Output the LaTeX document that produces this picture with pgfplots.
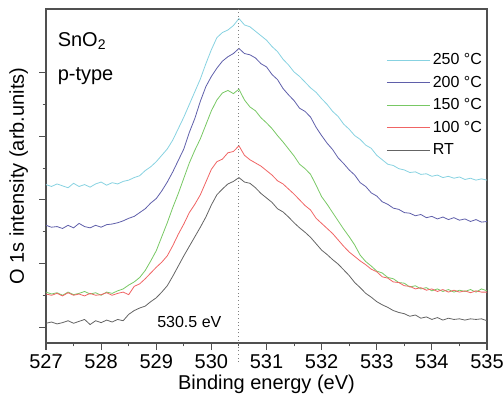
\documentclass[border=0pt]{standalone}
\usepackage{pgfplots}
\usepackage{pgfplotstable}
\pgfplotsset{compat=1.18}
\usepackage{fontspec}
\setmainfont{Liberation Sans}

\definecolor{c250}{RGB}{135,210,225}
\definecolor{c200}{RGB}{95,95,170}
\definecolor{c150}{RGB}{120,200,100}
\definecolor{c100}{RGB}{240,100,100}
\definecolor{cRT}{RGB}{100,100,100}
\definecolor{frame}{RGB}{80,80,80}

% x, 250C, 200C, 150C, 100C, RT
\pgfplotstableread{
x a b c d e
527.0 2.24 1.60 0.55 0.52 0.06
527.1 2.21 1.57 0.52 0.50 0.08
527.2 2.25 1.58 0.54 0.53 0.05
527.3 2.22 1.55 0.50 0.49 0.07
527.4 2.19 1.60 0.55 0.54 0.10
527.5 2.26 1.56 0.51 0.50 0.06
527.6 2.21 1.63 0.53 0.52 0.09
527.7 2.24 1.58 0.56 0.49 0.12
527.8 2.20 1.56 0.52 0.53 0.04
527.9 2.25 1.60 0.54 0.50 0.10
528.0 2.28 1.57 0.50 0.51 0.07
528.1 2.23 1.61 0.55 0.54 0.11
528.2 2.27 1.62 0.53 0.50 0.08
528.3 2.25 1.64 0.57 0.53 0.12
528.4 2.29 1.67 0.60 0.55 0.10
528.5 2.31 1.71 0.66 0.51 0.20
528.6 2.35 1.74 0.71 0.64 0.26
528.7 2.38 1.80 0.78 0.68 0.30
528.8 2.46 1.86 0.89 0.76 0.33
528.9 2.52 1.95 1.04 0.85 0.40
529.0 2.60 2.02 1.20 0.94 0.46
529.1 2.70 2.14 1.42 1.02 0.55
529.2 2.80 2.28 1.64 1.12 0.65
529.3 2.94 2.44 1.88 1.28 0.80
529.4 3.12 2.62 2.10 1.46 0.96
529.5 3.30 2.80 2.34 1.62 1.12
529.6 3.50 3.06 2.58 1.80 1.27
529.7 3.70 3.28 2.78 1.93 1.42
529.8 3.90 3.55 2.96 2.08 1.57
529.9 4.14 3.78 3.18 2.28 1.73
530.0 4.36 3.94 3.40 2.48 1.92
530.1 4.55 4.07 3.57 2.60 2.08
530.2 4.63 4.18 3.68 2.64 2.17
530.3 4.67 4.25 3.72 2.74 2.25
530.4 4.74 4.30 3.67 2.76 2.29
530.5 4.85 4.38 3.74 2.85 2.35
530.6 4.75 4.30 3.57 2.70 2.28
530.7 4.72 4.28 3.46 2.63 2.26
530.8 4.65 4.23 3.40 2.58 2.19
530.9 4.58 4.14 3.29 2.53 2.10
531.0 4.51 4.09 3.21 2.46 2.03
531.1 4.41 3.97 3.12 2.39 1.96
531.2 4.33 3.89 3.01 2.30 1.86
531.3 4.21 3.75 2.91 2.25 1.81
531.4 4.12 3.65 2.80 2.17 1.73
531.5 4.01 3.56 2.69 2.09 1.64
531.6 3.94 3.44 2.56 2.00 1.56
531.7 3.85 3.39 2.49 1.91 1.49
531.8 3.76 3.30 2.40 1.84 1.41
531.9 3.69 3.14 2.23 1.71 1.31
532.0 3.59 3.01 2.05 1.63 1.21
532.1 3.50 2.89 1.93 1.55 1.14
532.2 3.39 2.79 1.80 1.47 1.06
532.3 3.31 2.66 1.67 1.37 0.99
532.4 3.19 2.57 1.54 1.27 0.90
532.5 3.11 2.47 1.42 1.18 0.81
532.6 3.01 2.39 1.29 1.11 0.70
532.7 2.95 2.27 1.13 1.04 0.62
532.8 2.86 2.21 1.03 0.98 0.53
532.9 2.81 2.11 0.96 0.91 0.47
533.0 2.70 2.06 0.88 0.87 0.40
533.1 2.63 1.97 0.85 0.79 0.35
533.2 2.56 1.93 0.78 0.77 0.31
533.3 2.54 1.87 0.76 0.71 0.26
533.4 2.49 1.85 0.70 0.70 0.23
533.5 2.47 1.80 0.69 0.65 0.21
533.6 2.43 1.79 0.63 0.64 0.17
533.7 2.44 1.75 0.65 0.60 0.19
533.8 2.40 1.77 0.60 0.62 0.14
533.9 2.41 1.72 0.62 0.58 0.16
534.0 2.37 1.74 0.57 0.60 0.12
534.1 2.39 1.70 0.60 0.56 0.15
534.2 2.35 1.73 0.56 0.59 0.11
534.3 2.37 1.69 0.59 0.55 0.14
534.4 2.34 1.72 0.55 0.58 0.12
534.5 2.36 1.68 0.58 0.55 0.13
534.6 2.32 1.70 0.56 0.57 0.11
534.7 2.34 1.66 0.59 0.54 0.13
534.8 2.31 1.69 0.55 0.57 0.12
534.9 2.33 1.65 0.60 0.55 0.13
535.0 2.31 1.66 0.57 0.55 0.10
}\xps

\begin{document}
\begin{tikzpicture}
\useasboundingbox (-34.5pt,-45pt) rectangle (343.5pt,257.25pt);
\begin{axis}[
  scale only axis, width=330.75pt, height=250.5pt,
  xmin=527, xmax=535, ymin=-0.25, ymax=5,
  xtick={527,528,...,535}, minor x tick num=1,
  ytick={0,1,2,3,4}, minor y tick num=1, yticklabels={},
  xtick pos=bottom, ytick pos=left, tick align=outside,
  major tick length=5pt, minor tick length=2.5pt,
  every tick/.style={frame, line width=0.8pt},
  axis line style={frame, line width=1pt},
  /pgf/number format/assume math mode=true,
  /pgf/number format/1000 sep={},
  tick label style={font=\fontsize{15}{18}\selectfont},
  label style={font=\fontsize{15}{18}\selectfont},
  xlabel={Binding energy (eV)}, ylabel={O 1s intensity (arb.units)},
  xlabel style={yshift=2pt}, ylabel style={yshift=-2pt},
  clip=false,
  legend style={draw=none, fill=none, font=\fontsize{12}{14}\selectfont,
    at={(0.995,0.875)}, anchor=north east, row sep=3pt, inner sep=0pt},
  legend cell align=left,
  legend image code/.code={\draw[#1, line width=0.9pt] (-4pt,0pt) -- (28pt,0pt);},
]
\addplot[c250, line width=0.6pt] table[x=x,y=a] {\xps};
\addlegendentry{250 °C}
\addplot[c200, line width=0.6pt] table[x=x,y=b] {\xps};
\addlegendentry{200 °C}
\addplot[c150, line width=0.6pt] table[x=x,y=c] {\xps};
\addlegendentry{150 °C}
\addplot[c100, line width=0.6pt] table[x=x,y=d] {\xps};
\addlegendentry{100 °C}
\addplot[cRT, line width=0.6pt] table[x=x,y=e] {\xps};
\addlegendentry{RT}
\addplot[gray, dotted, line width=0.7pt, forget plot] coordinates {(530.5,-0.55) (530.5,5)};
\node[anchor=west, font=\fontsize{15}{18}\selectfont] at (rel axis cs:0.016,0.905) {SnO\textsubscript{2}};
\node[anchor=west, font=\fontsize{15}{18}\selectfont] at (rel axis cs:0.016,0.80) {p-type};
\node[font=\fontsize{12}{14}\selectfont] at (axis cs:529.6,0.08) {530.5 eV};
\end{axis}
\end{tikzpicture}
\end{document}
